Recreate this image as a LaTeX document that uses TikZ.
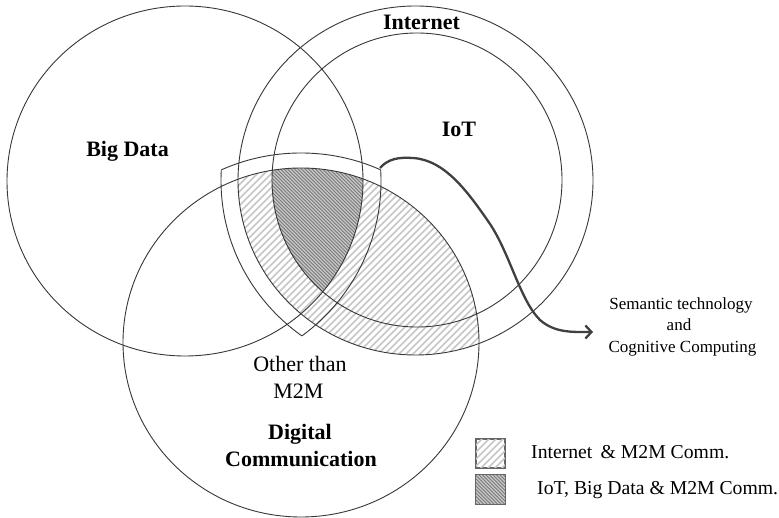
\documentclass[tikz,border=0pt]{standalone}
\usepackage{fontspec}
\setmainfont{Liberation Serif}
\usetikzlibrary{arrows.meta}

% set outlines (pixel-like units, y pointing down)
\newcommand\shBigData{(185,181) ellipse [x radius=178pt, y radius=175pt]}
\newcommand\shInternet{(415.5,180.5) ellipse [x radius=177.5pt, y radius=174.5pt]}
\newcommand\shIoT{(417,180) ellipse [x radius=145pt, y radius=147pt]}
\newcommand\shDigital{(301,342.5) ellipse [x radius=178pt, y radius=174.5pt]}
% enlarged copies that bound the "Other than M2M" wedge
\newcommand\wgTop{(301,342.5) ellipse [x radius=193pt, y radius=189.5pt]}
\newcommand\wgLeft{(415.5,180.5) ellipse [x radius=194.5pt, y radius=191.5pt]}
\newcommand\wgRight{(185,181) ellipse [x radius=196pt, y radius=193pt]}

\begin{document}
\begin{tikzpicture}[x=1pt, y=-1pt,
  ring/.style={draw=black!78, line width=0.9pt},
  lighthatch/.style={draw=black!22, line width=1.7pt},
  darkhatch/.style={draw=black!52, line width=1.0pt},
  darkbase/.style={fill=black!22},
  setlabel/.style={font=\fontsize{22}{26}\selectfont\bfseries, anchor=base, inner sep=0pt},
  plainlabel/.style={font=\fontsize{22}{26}\selectfont, anchor=base, inner sep=0pt},
  notelabel/.style={font=\fontsize{17}{21}\selectfont, anchor=base, inner sep=0pt},
  keylabel/.style={font=\fontsize{19.7}{23}\selectfont, anchor=base west, inner sep=0pt},
  keybox/.style={draw=black!60, line width=1.1pt, minimum size=29pt, inner sep=0pt},
  flow/.style={draw=black!75, line width=2.3pt, -{Straight Barb[length=6pt,width=13pt,line width=2.3pt]}}]

\useasboundingbox (0,0) rectangle (779,518);
\fill[white] (0,0) rectangle (779,518);

% Internet & M2M communication: light hatching
\begin{scope}
  \clip \shInternet;
  \clip \shDigital;
  \foreach \c in {270,277,...,980}
    \draw[lighthatch] (\c-420,420) -- (\c-130,130);
\end{scope}

% IoT, Big Data & M2M communication: dense dark hatching
\begin{scope}
  \clip \shIoT;
  \clip \shBigData;
  \clip \shDigital;
  \fill[darkbase] (240,140) rectangle (400,330);
  \foreach \d in {-60,-56.5,...,240}
    \draw[darkhatch] (\d+130,130) -- (\d+340,340);
\end{scope}

% the four sets
\draw[ring] \shBigData;
\draw[ring] \shInternet;
\draw[ring] \shIoT;
\draw[ring] \shDigital;

% wedge outline: each enlarged arc kept where it lies inside the other two
\begin{scope}
  \clip \wgLeft; \clip \wgRight;
  \draw[ring] \wgTop;
\end{scope}
\begin{scope}
  \clip \wgTop; \clip \wgRight;
  \draw[ring] \wgLeft;
\end{scope}
\begin{scope}
  \clip \wgTop; \clip \wgLeft;
  \draw[ring] \wgRight;
\end{scope}

% set names
\node[setlabel] (bigdata) at (127.5,157) {Big Data};
\node[setlabel] (internet) at (421.5,29.3) {Internet};
\node[setlabel] (iot) at (459,136.7) {IoT};
\node[plainlabel] (other1) at (300,371.7) {Other than};
\node[plainlabel] (other2) at (298.5,398.3) {M2M};
\node[setlabel] (digital1) at (300,439.5) {Digital};
\node[setlabel] (digital2) at (301,466.7) {Communication};

% outlook
\node[notelabel] (sem1) at (681,310) {Semantic technology};
\node[notelabel] (sem2) at (679,330.7) {and};
\node[notelabel] (sem3) at (682.5,353) {Cognitive Computing};

\coordinate (bend) at (380,168);
\coordinate (tip) at (593,332);
\draw[flow] (bend) .. controls (388,159) and (398,157) .. (413,158)
  .. controls (445,160) and (468,192) .. (490,224)
  .. controls (510,254) and (520,300) .. (540,320)
  .. controls (555,333) and (572,332) .. (tip);

% key
\node[keybox] (key1) at (490.5,453.5) {};
\node[keybox] (key2) at (490.5,489.5) {};
\begin{scope}
  \clip (key1.south west) rectangle (key1.north east);
  \foreach \c in {900,907,...,1000}
    \draw[lighthatch] (\c-480,480) -- (\c-430,430);
\end{scope}
\begin{scope}
  \clip (key2.south west) rectangle (key2.north east);
  \fill[darkbase] (470,470) rectangle (510,510);
  \foreach \d in {-45,-41.5,...,40}
    \draw[darkhatch] (\d+470,470) -- (\d+510,510);
\end{scope}
\draw[keybox] (key1.south west) rectangle (key1.north east);
\draw[keybox] (key2.south west) rectangle (key2.north east);
\node[keylabel] (keytext1) at (531,458.3) {Internet \,\& M2M Comm.};
\node[keylabel] (keytext2) at (537,494.3) {IoT, Big Data \& M2M Comm.};
\end{tikzpicture}
\end{document}
